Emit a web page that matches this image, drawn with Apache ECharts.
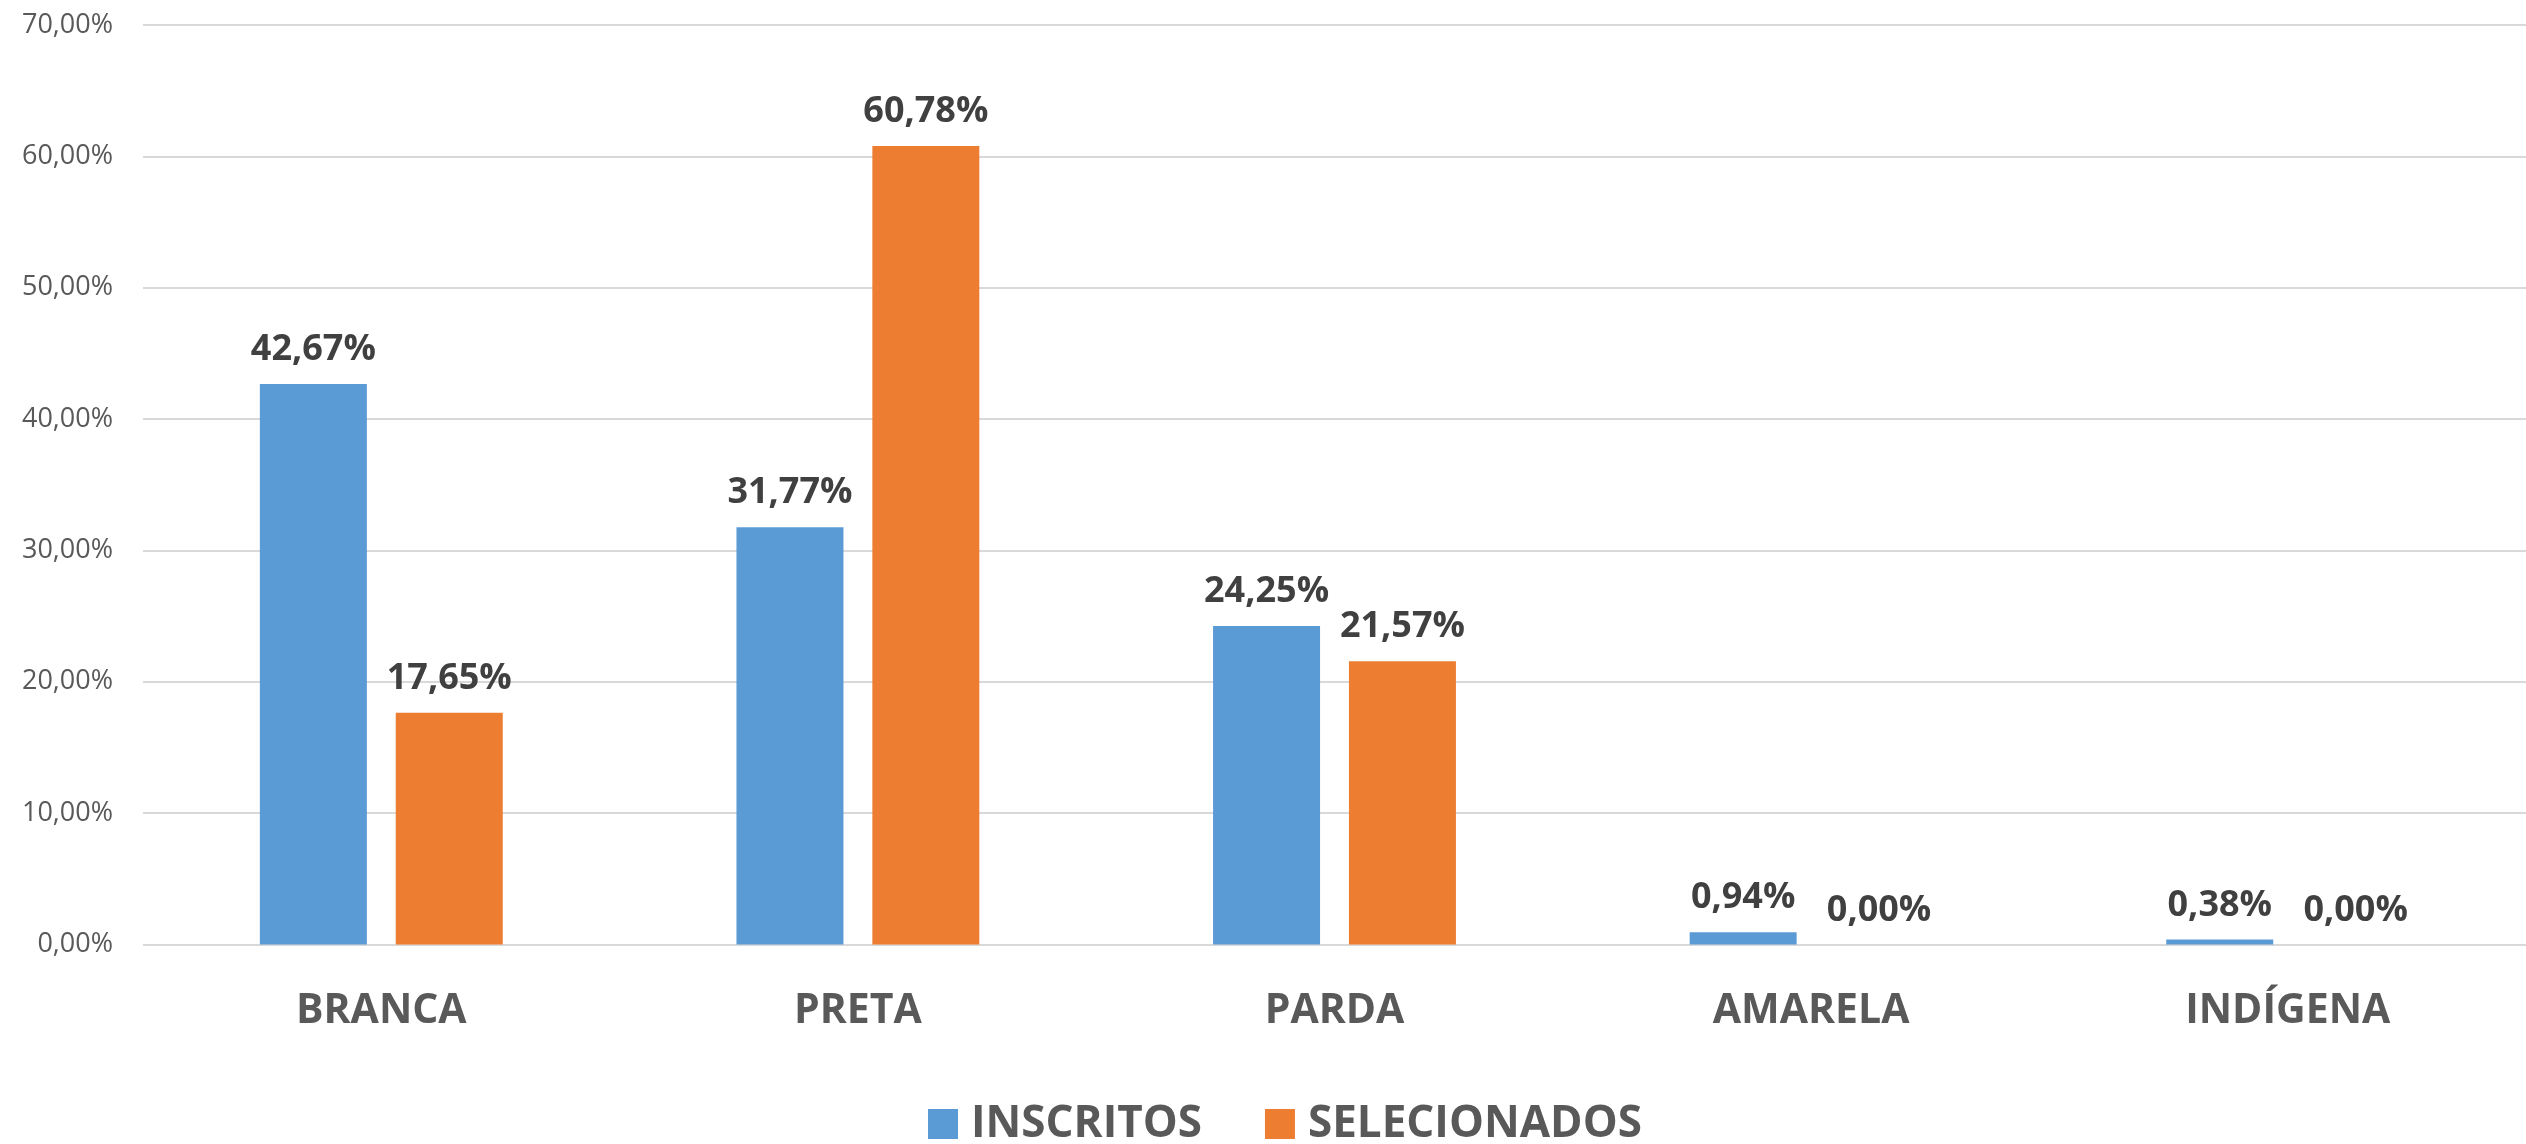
<!DOCTYPE html>
<html>
<head>
<meta charset="utf-8">
<script src="https://cdn.jsdelivr.net/npm/echarts@6/dist/echarts.min.js"></script>
<style>html,body{margin:0;padding:0;background:#fff;overflow:hidden;}#c{width:2526px;height:1144px;}</style>
</head>
<body>
<div id="c"></div>
<script>
const categories = ['BRANCA', 'PRETA', 'PARDA', 'AMARELA', 'INDÍGENA'];
const inscritos = [42.67, 31.77, 24.25, 0.94, 0.38];
const selecionados = [17.65, 60.78, 21.57, 0.00, 0.00];
const seriesNames = ['INSCRITOS', 'SELECIONADOS'];
const yTicks = [0, 10, 20, 30, 40, 50, 60, 70];

const FONT = '"Open Sans", "Noto Sans", sans-serif';
const fmt = v => Number(v).toFixed(2).replace('.', ',') + '%';

const chart = echarts.init(document.getElementById('c'));
const labelCfg = {
  show: true, position: 'top', distance: 16,
  formatter: p => fmt(p.value),
  color: '#404040', fontFamily: FONT, fontWeight: 'bold', fontSize: 36
};
chart.setOption({
  animation: false,
  color: ['#5B9BD5', '#ED7D31'],
  grid: { left: 143, width: 2387.5, top: 25, bottom: 199.5, containLabel: false },
  legend: {
    data: seriesNames, left: 923, top: 1097,
    itemWidth: 30, itemHeight: 30, itemGap: 63,
    icon: 'rect',
    textStyle: { color: '#595959', fontFamily: FONT, fontWeight: 'bold', fontSize: 44, padding: [0, 0, 0, 8] }
  },
  xAxis: {
    type: 'category', data: categories,
    axisLine: { show: false }, axisTick: { show: false },
    axisLabel: { color: '#595959', fontFamily: FONT, fontWeight: 'bold', fontSize: 41, margin: 46 }
  },
  yAxis: {
    type: 'value', min: yTicks[0], max: yTicks[yTicks.length - 1], interval: 10,
    axisLine: { show: false }, axisTick: { show: false },
    splitLine: { lineStyle: { color: '#d9d9d9', width: 2 } },
    axisLabel: { color: '#595959', fontFamily: FONT, fontSize: 27, margin: 30, formatter: v => fmt(v) }
  },
  series: [
    { name: seriesNames[0], type: 'bar', data: inscritos, barWidth: 107, barGap: '27%', label: labelCfg },
    { name: seriesNames[1], type: 'bar', data: selecionados, barWidth: 107, barGap: '27%', label: labelCfg }
  ]
});
</script>
</body>
</html>
